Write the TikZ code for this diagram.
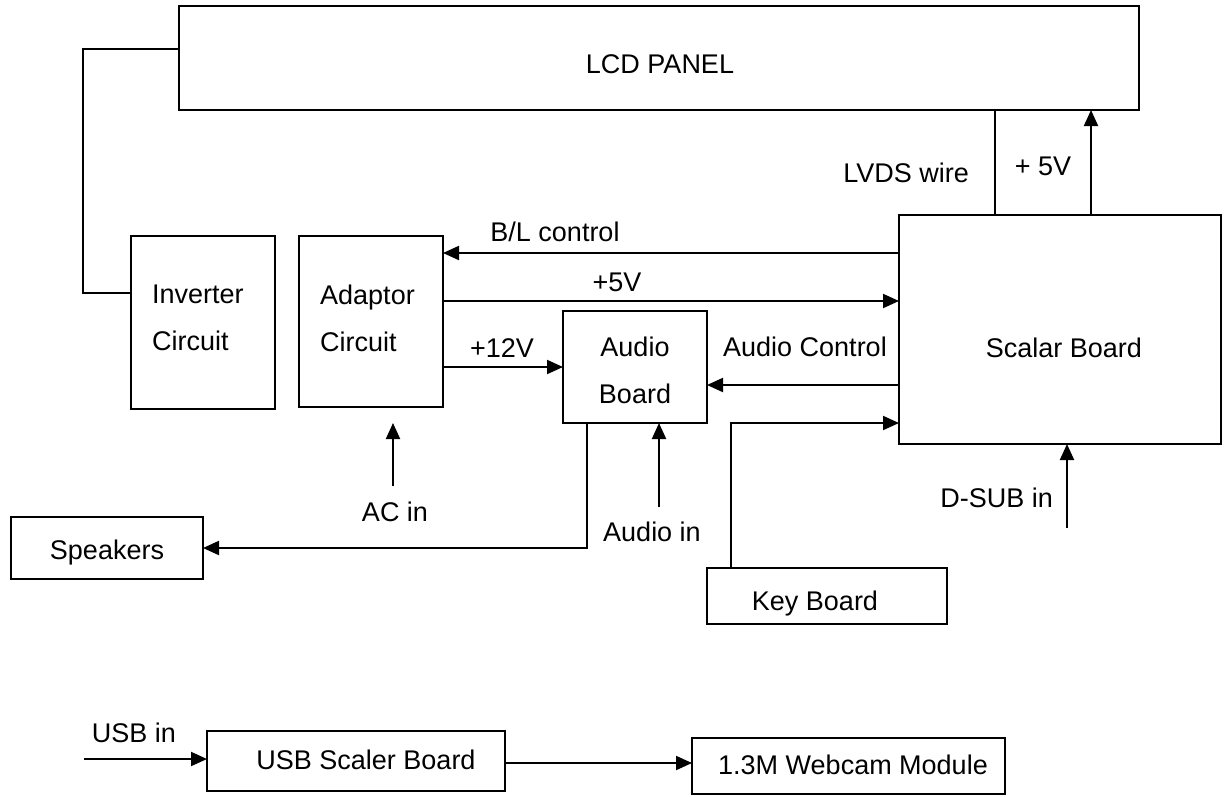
\documentclass[tikz,border=0pt]{standalone}
\usepackage{fontspec}
\setmainfont{Liberation Sans}
\usetikzlibrary{calc,arrows.meta,shapes}
\newcommand\blkbox[5]{% name, left, top, right, bottom
\node[blk, minimum width={(#4-#2)*1pt}, minimum height={(#5-#3)*1pt}] (#1) at ({(#2+#4)/2},{(#3+#5)/2}) {};}

\begin{document}
\begin{tikzpicture}[x=1pt,y=-1pt,
    blk/.style={draw, line width=2pt, inner sep=0pt, outer sep=0pt},
    txt/.style={font=\fontsize{27}{47}\selectfont, inner sep=0pt},
    ln/.style={line width=2pt},
    arr/.style={line width=2pt, -{Triangle[length=16pt,width=14pt]}}]
      \useasboundingbox (0,0) rectangle (1224,796);

      \blkbox{lcd}{179}{6}{1139}{110}
      \blkbox{inv}{131}{236}{275}{409}
      \blkbox{adp}{299}{236}{443}{407}
      \blkbox{audio}{563}{311}{707}{423}
      \blkbox{scalar}{899}{215}{1221}{444}
      \blkbox{key}{707}{568}{947}{624}
      \blkbox{spk}{11}{517}{203}{579}
      \blkbox{usbsc}{207}{731}{505}{791}
      \blkbox{cam}{692}{738}{1005}{794}

      \node[txt] (lcdtxt) at (660,64) {LCD PANEL};
      \node[txt, align=left, anchor=west] (invtxt) at (152,318) {Inverter\\Circuit};
      \node[txt, align=left, anchor=west] (adptxt) at (320,318) {Adaptor\\Circuit};
      \node[txt, align=center] (audiotxt) at (635,370) {Audio\\Board};
      \node[txt] (scalartxt) at (1064,348) {Scalar Board};
      \node[txt] (keytxt) at (815,604) {Key Board};
      \node[txt] (spktxt) at (107,553) {Speakers};
      \node[txt] (usbsctxt) at (366,760) {USB Scaler Board};
      \node[txt] (camtxt) at (853,765) {1.3M Webcam Module};

      \node[txt, anchor=east] (lvds) at (969,173) {LVDS wire};
      \node[txt] (p5top) at (1043,166) {+ 5V};
      \node[txt] (bl) at (555,232) {B/L control};
      \node[txt] (p5) at (617,282) {+5V};
      \node[txt] (p12) at (502,348) {+12V};
      \node[txt] (actl) at (805,347) {Audio Control};
      \node[txt] (acin) at (395,512) {AC in};
      \node[txt] (ain) at (652,532) {Audio in};
      \node[txt, anchor=east] (dsub) at (1053,498) {D-SUB in};
      \node[txt] (usbin) at (134,733) {USB in};

      \coordinate (acstart) at (393,486);
      \coordinate (acend) at (393,423);
      \coordinate (ainstart) at (659,507);
      \coordinate (dsubstart) at (1067,528);
      \coordinate (usbstart) at (84,759);

      \draw[ln] (inv.west |- 0,293) -- (83,293) |- (lcd.west |- 0,49);
      \draw[ln] (scalar.north -| 995,0) -- (lcd.south -| 995,0);
      \draw[arr] (scalar.north -| 1091,0) -- (lcd.south -| 1091,0);
      \draw[arr] (scalar.west |- 0,253) -- (adp.east |- 0,253);
      \draw[arr] (adp.east |- 0,301) -- (scalar.west |- 0,301);
      \draw[arr] (adp.east |- 0,367) -- (audio.west |- 0,367);
      \draw[arr] (scalar.west |- 0,385) -- (audio.east |- 0,385);
      \draw[arr] (key.north -| 731,0) |- (scalar.west |- 0,423);
      \draw[arr] (audio.south -| 587,0) |- (spk.east);
      \draw[arr] (acstart) -- (acend);
      \draw[arr] (ainstart) -- (audio.south -| ainstart);
      \draw[arr] (dsubstart) -- (scalar.south -| dsubstart);
      \draw[arr] (usbstart) -- (usbsc.west |- usbstart);
      \draw[arr] (usbsc.east |- 0,763) -- (cam.west |- 0,763);
    \end{tikzpicture}
\end{document}
